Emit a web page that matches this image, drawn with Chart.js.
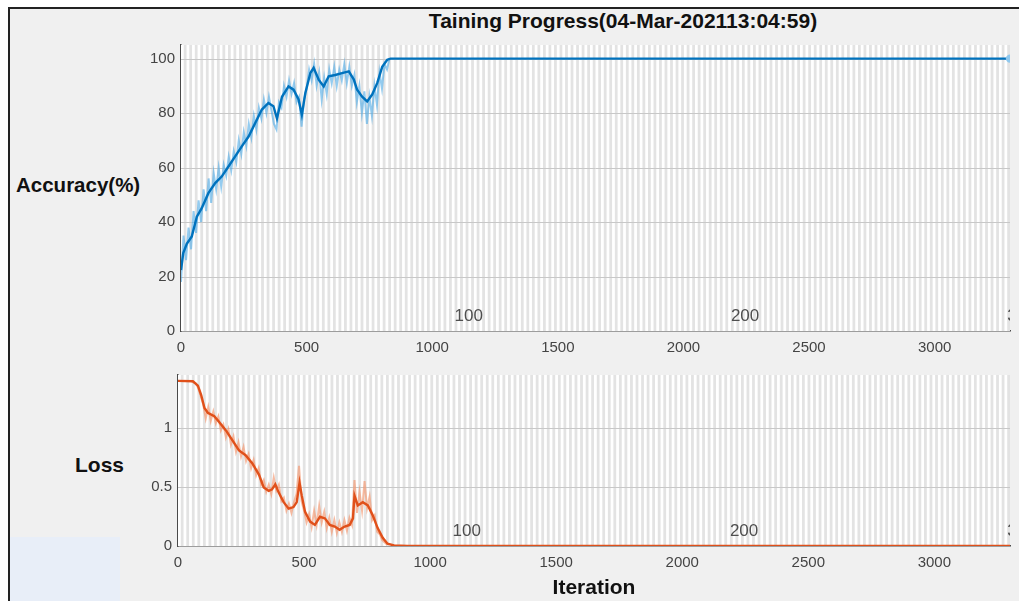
<!DOCTYPE html>
<html>
<head>
<meta charset="utf-8">
<script src="https://cdn.jsdelivr.net/npm/chart.js@4/dist/chart.umd.min.js"></script>
<style>
  body { margin: 0; background: #ffffff; width: 1019px; height: 601px; overflow: hidden; position: relative; font-family: "Liberation Sans", Arial, sans-serif; }
  #frame { position: absolute; left: 8px; top: 7px; width: 1011px; height: 594px; background: #f0f0f0; border-left: 2px solid #222; border-top: 2px solid #222; }
  #blueBox { position: absolute; left: 10px; top: 537px; width: 110px; height: 64px; background: #e8eef8; }
  canvas { position: absolute; left: 0; }
  .lbl { position: absolute; font-weight: bold; color: #111; white-space: nowrap; }
</style>
</head>
<body>
<div id="frame"></div>
<div id="blueBox"></div>
<div class="lbl" style="left:0;width:1246px;text-align:center;top:9px;font-size:21px;">Taining Progress(04-Mar-202113:04:59)</div>
<div class="lbl" style="left:16px;top:173px;font-size:20.5px;">Accuracy(%)</div>
<div class="lbl" style="left:75px;top:453px;font-size:21px;">Loss</div>
<canvas id="accChart" width="1019" height="360" style="top:0"></canvas>
<canvas id="lossChart" width="1019" height="241" style="top:360px"></canvas>
<script>
// epochs shown as alternating stripes
let itersPerEpoch = 11;
let numEpochs = 300;
let epochLabels = [100, 200, 300];

let xTicks = [0, 500, 1000, 1500, 2000, 2500, 3000];
let accTicks = [0, 20, 40, 60, 80, 100];
let lossTicks = [0, 0.5, 1];

// accuracy, raw minibatch values
let accRawIter = [0,10,20,30,40,50,60,70,80,90,100,110,120,130,140,150,160,170,180,190,200,210,220,230,240,250,260,270,280,290,300,310,320,330,340,350,360,370,380,390,400,410,420,430,440,450,460,470,480,490,500,510,520,530,540,550,560,570,580,590,600,610,620,630,640,650,660,670,680,690,700,710,720,730,740,750,760,770,780,790,800,810,820,830];
let accRaw = [18,35,26,38,30,44,36,48,40,52,44,56,47,58,52,60,53,61,57,64,59,66,62,70,65,73,68,76,71,79,74,82,78,85,80,86,81,76,74,84,82,90,86,92,87,91,84,86,75,85,89,96,92,98,90,95,85,93,87,96,91,97,90,96,92,98,91,97,90,94,84,90,80,88,76,86,79,90,83,95,89,98,96,100];

// accuracy, smoothed
let accIter = [0,9,23,43,63,82,109,136,162,189,215,242,269,295,322,348,368,382,402,428,448,468,481,495,515,528,548,568,588,614,641,668,688,701,721,741,761,781,801,821,834,3300];
let accSmooth = [22.4,28.6,32,34.7,42,45,50.6,54.3,56.7,60.4,64,67.8,71.4,76.3,81.3,83.7,82.5,78,86,89.8,88.6,85,79.4,87.4,94.7,96.6,92.3,89.8,93.5,94,94.7,95.3,92.3,88.6,86,84.3,86.8,91,97,99.6,100,100];

// loss, raw minibatch values
let lossRawIter = accRawIter;
let lossRaw = [1.40,1.40,1.40,1.40,1.40,1.40,1.39,1.38,1.34,1.27,1.20,1.08,1.18,1.06,1.14,1.04,1.10,0.98,1.03,0.92,0.99,0.86,0.93,0.80,0.88,0.76,0.84,0.72,0.78,0.66,0.73,0.60,0.66,0.52,0.56,0.46,0.52,0.44,0.58,0.47,0.52,0.38,0.41,0.30,0.36,0.28,0.37,0.44,0.68,0.38,0.30,0.20,0.27,0.16,0.30,0.18,0.34,0.20,0.29,0.15,0.24,0.12,0.22,0.11,0.20,0.12,0.22,0.13,0.24,0.18,0.56,0.28,0.46,0.30,0.55,0.32,0.42,0.22,0.26,0.12,0.10,0.05,0.03,0.01];

// loss, smoothed
let lossIter = [0,59,79,92,105,118,144,164,190,216,242,268,295,321,340,360,373,386,399,419,439,458,471,482,491,504,524,543,563,583,602,622,641,661,681,694,700,713,733,753,772,792,812,831,857,910,3300];
let lossSmooth = [1.40,1.397,1.36,1.28,1.17,1.13,1.10,1.05,0.98,0.895,0.81,0.77,0.70,0.606,0.496,0.468,0.48,0.523,0.455,0.372,0.317,0.33,0.372,0.537,0.427,0.289,0.207,0.179,0.248,0.234,0.179,0.165,0.138,0.165,0.179,0.234,0.427,0.344,0.372,0.344,0.262,0.152,0.069,0.019,0.005,0,0];

function toPoints(xs, ys) {
    return xs.map((x, i) => ({x: x, y: ys[i]}));
}

let epochPlugin = {
    id: "epochStripes",
    beforeDatasetsDraw(chart) {
        let ctx = chart.ctx;
        let area = chart.chartArea;
        let xs = chart.scales.x;
        ctx.save();
        ctx.fillStyle = "#ffffff";
        ctx.fillRect(area.left, area.top, area.right - area.left, area.bottom - area.top);
        ctx.beginPath();
        ctx.rect(area.left, area.top, area.right - area.left, area.bottom - area.top);
        ctx.clip();
        ctx.fillStyle = "#e3e3e3";
        for (let k = 1; k < numEpochs; k += 2) {
            let x0 = xs.getPixelForValue(k * itersPerEpoch);
            let x1 = xs.getPixelForValue((k + 1) * itersPerEpoch);
            ctx.fillRect(x0, area.top, x1 - x0, area.bottom - area.top);
        }
        // horizontal grid lines on top of stripes
        let ys = chart.scales.y;
        ctx.strokeStyle = "#c8c8c8";
        ctx.lineWidth = 1;
        ys.ticks.forEach(t => {
            let y = Math.round(ys.getPixelForValue(t.value)) + 0.5;
            ctx.beginPath();
            ctx.moveTo(area.left, y);
            ctx.lineTo(area.right, y);
            ctx.stroke();
        });
        ctx.fillStyle = "#4f4f4f";
        ctx.font = "17px 'Liberation Sans', Arial, sans-serif";
        ctx.textAlign = "left";
        ctx.textBaseline = "middle";
        epochLabels.forEach(e => {
            ctx.fillText(String(e), xs.getPixelForValue((e - 1) * itersPerEpoch), area.bottom - 15);
        });
        ctx.restore();
    }
};

function makeOptions(yMax, yTicks, yWidth, padTop, xHeight, xTitle) {
    return {
        responsive: false,
        animation: false,
        layout: {padding: {top: padTop, right: 9, left: 0, bottom: 0}},
        plugins: {legend: {display: false}, tooltip: {enabled: false}},
        elements: {point: {radius: 0}},
        scales: {
            x: {
                type: "linear", min: 0, max: 3300,
                afterBuildTicks: s => { s.ticks = xTicks.map(v => ({value: v})); },
                afterFit: s => { s.height = xHeight; },
                grid: {display: false, drawTicks: false},
                border: {display: true, color: "#4a4a4a", width: 1.5},
                ticks: {color: "#444444", font: {size: 15, family: "'Liberation Sans', Arial"}, padding: 8, maxRotation: 0, callback: v => String(v)},
                title: xTitle ? {display: true, text: xTitle, color: "#111", font: {size: 21, weight: "bold", family: "'Liberation Sans', Arial"}, padding: {top: 2, bottom: 0}} : {display: false}
            },
            y: {
                min: 0, max: yMax,
                afterBuildTicks: s => { s.ticks = yTicks.map(v => ({value: v})); },
                afterFit: s => { s.width = yWidth; },
                grid: {display: false, drawTicks: false},
                border: {display: true, color: "#4a4a4a", width: 1.5},
                ticks: {color: "#444444", font: {size: 15, family: "'Liberation Sans', Arial"}, padding: 6, callback: v => String(v)}
            }
        }
    };
}

new Chart(document.getElementById("accChart"), {
    type: "line",
    data: {
        datasets: [{
            data: toPoints(accIter, accSmooth),
            borderColor: "#0072BD",
            borderWidth: 2.4,
            pointRadius: accIter.map((x, i) => i === accIter.length - 1 ? 3 : 0),
            pointBackgroundColor: "#8fc8ee",
            pointBorderColor: "#8fc8ee",
            tension: 0
        }, {
            data: toPoints(accRawIter, accRaw),
            borderColor: "rgba(77,170,230,0.6)",
            borderWidth: 2,
            tension: 0
        }]
    },
    options: makeOptions(105, accTicks, 181, 45, 29, null),
    plugins: [epochPlugin]
});

new Chart(document.getElementById("lossChart"), {
    type: "line",
    data: {
        datasets: [{
            data: toPoints(lossIter, lossSmooth),
            borderColor: "#E0501A",
            borderWidth: 2.4,
            tension: 0
        }, {
            data: toPoints(lossRawIter, lossRaw),
            borderColor: "rgba(245,150,110,0.65)",
            borderWidth: 2,
            tension: 0
        }]
    },
    options: makeOptions(1.45, lossTicks, 178, 10, 55, "Iteration"),
    plugins: [epochPlugin]
});
</script>
</body>
</html>
